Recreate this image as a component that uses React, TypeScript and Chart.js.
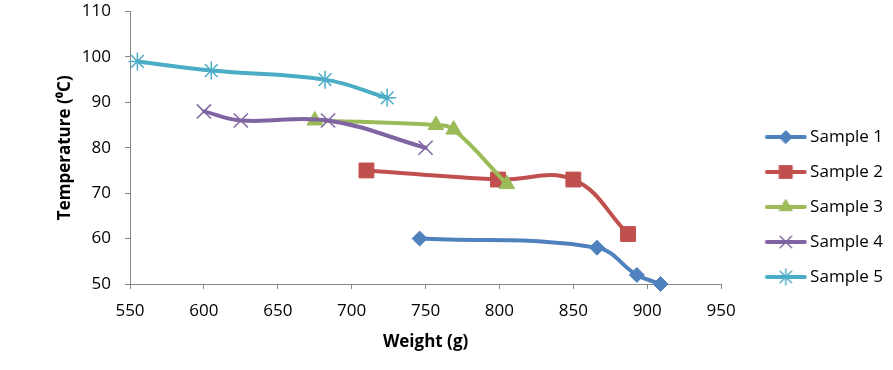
import React, { useEffect, useRef } from 'react';
import { Chart, registerables } from 'chart.js';
import { drawPoint } from 'chart.js/helpers';

Chart.register(...registerables);

// ---------- data ----------
const seriesNames = ['Sample 1', 'Sample 2', 'Sample 3', 'Sample 4', 'Sample 5'];

const sample1Weight = [746, 866, 893, 909];
const sample1Temp = [60, 58, 52, 50];

const sample2Weight = [710, 799, 850, 887];
const sample2Temp = [75, 73, 73, 61];

const sample3Weight = [675, 757, 769, 805];
const sample3Temp = [86, 85, 84, 72];

const sample4Weight = [600, 625, 684, 750];
const sample4Temp = [88, 86, 86, 80];

const sample5Weight = [555, 605, 682, 724];
const sample5Temp = [99, 97, 95, 91];

const xMin = 550;
const xMax = 950;
const xStep = 50;
const yMin = 50;
const yMax = 110;
const yStep = 10;

const xTitle = 'Weight (g)';
const yTitle = 'Temperature (\u2070C)';

// ---------- styles ----------
const weights = [sample1Weight, sample2Weight, sample3Weight, sample4Weight, sample5Weight];
const temps = [sample1Temp, sample2Temp, sample3Temp, sample4Temp, sample5Temp];
const colors = ['#4F81BD', '#C0504D', '#9BBB59', '#8064A2', '#4BACC6'];
const pointStyles = ['rectRot', 'rect', 'triangle', 'crossRot', 'star'];
const pointRadii = [7.5, 10.5, 9, 10, 9];
const pointBorders = [1, 1, 1, 1.5, 1.5];
const legendRadii = [6.5, 9, 7.5, 8, 8];

const FONT = "'Open Sans', sans-serif";
const AXIS_COLOR = '#868686';

function makeLegendImage(i: number): HTMLCanvasElement {
  const iw = 74;
  const ih = 24;
  const c = document.createElement('canvas');
  c.width = iw;
  c.height = ih;
  const ctx = c.getContext('2d') as CanvasRenderingContext2D;
  ctx.strokeStyle = colors[i];
  ctx.lineWidth = 4;
  ctx.lineCap = 'round';
  ctx.beginPath();
  ctx.moveTo(33.5, ih / 2);
  ctx.lineTo(71.5, ih / 2);
  ctx.stroke();
  ctx.fillStyle = colors[i];
  ctx.strokeStyle = colors[i];
  ctx.lineWidth = pointBorders[i];
  drawPoint(ctx, { pointStyle: pointStyles[i], radius: legendRadii[i], borderWidth: pointBorders[i], rotation: 0 } as any, 52.5, ih / 2);
  return c;
}

export default function App() {
  const ref = useRef<HTMLCanvasElement | null>(null);

  useEffect(() => {
    if (!ref.current) return;
    Chart.defaults.font.family = FONT;
    Chart.defaults.color = '#000';
    const legendImgs = seriesNames.map((_, i) => makeLegendImage(i));

    const datasets = seriesNames.map((name, i) => ({
      label: name,
      data: weights[i].map((w, k) => ({ x: w, y: temps[i][k] })),
      borderColor: colors[i],
      backgroundColor: colors[i],
      borderWidth: 4,
      borderCapStyle: 'round' as const,
      borderJoinStyle: 'round' as const,
      pointStyle: pointStyles[i] as any,
      pointRadius: pointRadii[i],
      pointBorderWidth: pointBorders[i],
      pointBackgroundColor: colors[i],
      pointBorderColor: colors[i],
      tension: 0.4,
      clip: false as any,
      order: seriesNames.length - i,
    }));

    const chart = new Chart(ref.current, {
      type: 'line',
      data: { datasets },
      options: {
        animation: false,
        responsive: false,
        maintainAspectRatio: false,
        layout: { padding: { left: 0, right: 0, top: 0, bottom: 0 } },
        plugins: {
          tooltip: { enabled: false },
          legend: {
            position: 'right',
            align: 'center',
            title: { display: true, text: '', font: { size: 10, lineHeight: 1.2 }, padding: { top: 32, bottom: 0 } },
            labels: {
              usePointStyle: true,
              pointStyleWidth: 62.5,
              padding: 18,
              color: '#000',
              font: { family: FONT, size: 17 },
              sort: (a: any, b: any) => a.datasetIndex - b.datasetIndex,
              generateLabels: (ch: any) => {
                const items = (Chart.defaults.plugins.legend.labels as any).generateLabels(ch);
                items.forEach((it: any) => {
                  it.pointStyle = legendImgs[it.datasetIndex];
                });
                return items;
              },
            },
          },
        },
        scales: {
          x: {
            type: 'linear',
            min: xMin,
            max: xMax,
            afterFit: (s: any) => { s.height = 86; },
            ticks: { stepSize: xStep, padding: 12, color: '#000', font: { family: FONT, size: 17, lineHeight: 1.2 } },
            grid: { drawOnChartArea: false, drawTicks: true, tickLength: 5, color: AXIS_COLOR, lineWidth: 1 },
            border: { display: true, color: AXIS_COLOR, width: 1 },
            title: { display: true, text: xTitle, color: '#000', font: { family: FONT, size: 17, weight: 'bold', lineHeight: 1.2 }, padding: { top: 0, bottom: 18 } },
          },
          y: {
            type: 'linear',
            min: yMin,
            max: yMax,
            afterFit: (s: any) => { s.width = 130; s.paddingTop = 8; s.paddingBottom = 8; },
            ticks: { stepSize: yStep, padding: 14, color: '#000', font: { family: FONT, size: 17, lineHeight: 1.2 } },
            grid: { drawOnChartArea: false, drawTicks: true, tickLength: 5, color: AXIS_COLOR, lineWidth: 1 },
            border: { display: true, color: AXIS_COLOR, width: 1 },
            title: { display: true, text: yTitle, color: '#000', font: { family: FONT, size: 17, weight: 'bold', lineHeight: 1.2 }, padding: { top: 55, bottom: 0 } },
          },
        },
      } as any,
    });
    return () => chart.destroy();
  }, []);

  return (
    <div style={{ position: 'absolute', left: 0, top: 0, width: 893, height: 370, background: '#fff' }}>
      <canvas ref={ref} width={893} height={370} style={{ width: 893, height: 370, display: 'block' }} />
    </div>
  );
}
